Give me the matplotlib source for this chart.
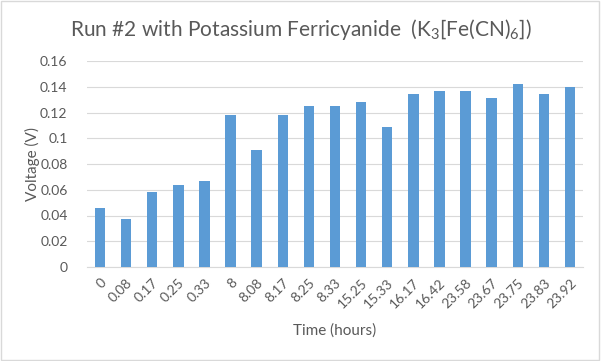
import matplotlib
matplotlib.use("Agg")
import matplotlib.pyplot as plt
from matplotlib.patches import Rectangle

plt.rcParams['font.family'] = ['Lato', 'DejaVu Sans']
plt.rcParams['mathtext.default'] = 'regular'

times = ['0', '0.08', '0.17', '0.25', '0.33', '8', '8.08', '8.17', '8.25', '8.33',
         '15.25', '15.33', '16.17', '16.42', '23.58', '23.67', '23.75', '23.83', '23.92']
voltage = [0.046, 0.037, 0.058, 0.064, 0.067, 0.118, 0.091, 0.118, 0.125, 0.125,
           0.128, 0.109, 0.134, 0.137, 0.137, 0.131, 0.142, 0.134, 0.140]
yticks = [0, 0.02, 0.04, 0.06, 0.08, 0.1, 0.12, 0.14, 0.16]
ytick_labels = ['0', '0.02', '0.04', '0.06', '0.08', '0.1', '0.12', '0.14', '0.16']

txt = '#595959'
fig = plt.figure(figsize=(6.01, 3.61), dpi=100)
ax = fig.add_axes([87/601, 1-267/361, (583-87)/601, (267-61)/361])

x = range(len(times))
ax.bar(x, voltage, width=0.4, color='#5B9BD5', zorder=3)

ax.set_ylim(0, 0.16)
ax.set_xlim(-0.5, len(times)-0.5)
ax.set_yticks(yticks)
ax.set_yticklabels(ytick_labels)
ax.set_xticks(list(x))
ax.set_xticklabels(times, rotation=45, ha='right', va='top', rotation_mode='anchor')
ax.tick_params(axis='both', length=0, labelsize=10, colors=txt)
ax.tick_params(axis='y', pad=14)
ax.tick_params(axis='x', pad=7)
ax.grid(axis='y', color='#d9d9d9', linewidth=0.8, zorder=0)
for s in ['top', 'right', 'left']:
    ax.spines[s].set_visible(False)
ax.spines['bottom'].set_color('#d9d9d9')

ax.set_ylabel('Voltage (V)', fontsize=11, color=txt, labelpad=0)
ax.set_xlabel('Time (hours)', fontsize=11, color=txt, labelpad=9)

fig.text(0.5, 1-30/361, 'Run #2 with Potassium Ferricyanide  (K$_3$[Fe(CN)$_6$])',
         ha='center', va='center', fontsize=15, color=txt)

fig.patches.append(Rectangle((0.002, 0.003), 0.995, 0.994, transform=fig.transFigure,
                             fill=False, edgecolor='#d9d9d9', linewidth=1))

fig.savefig('out.png', dpi=100)
